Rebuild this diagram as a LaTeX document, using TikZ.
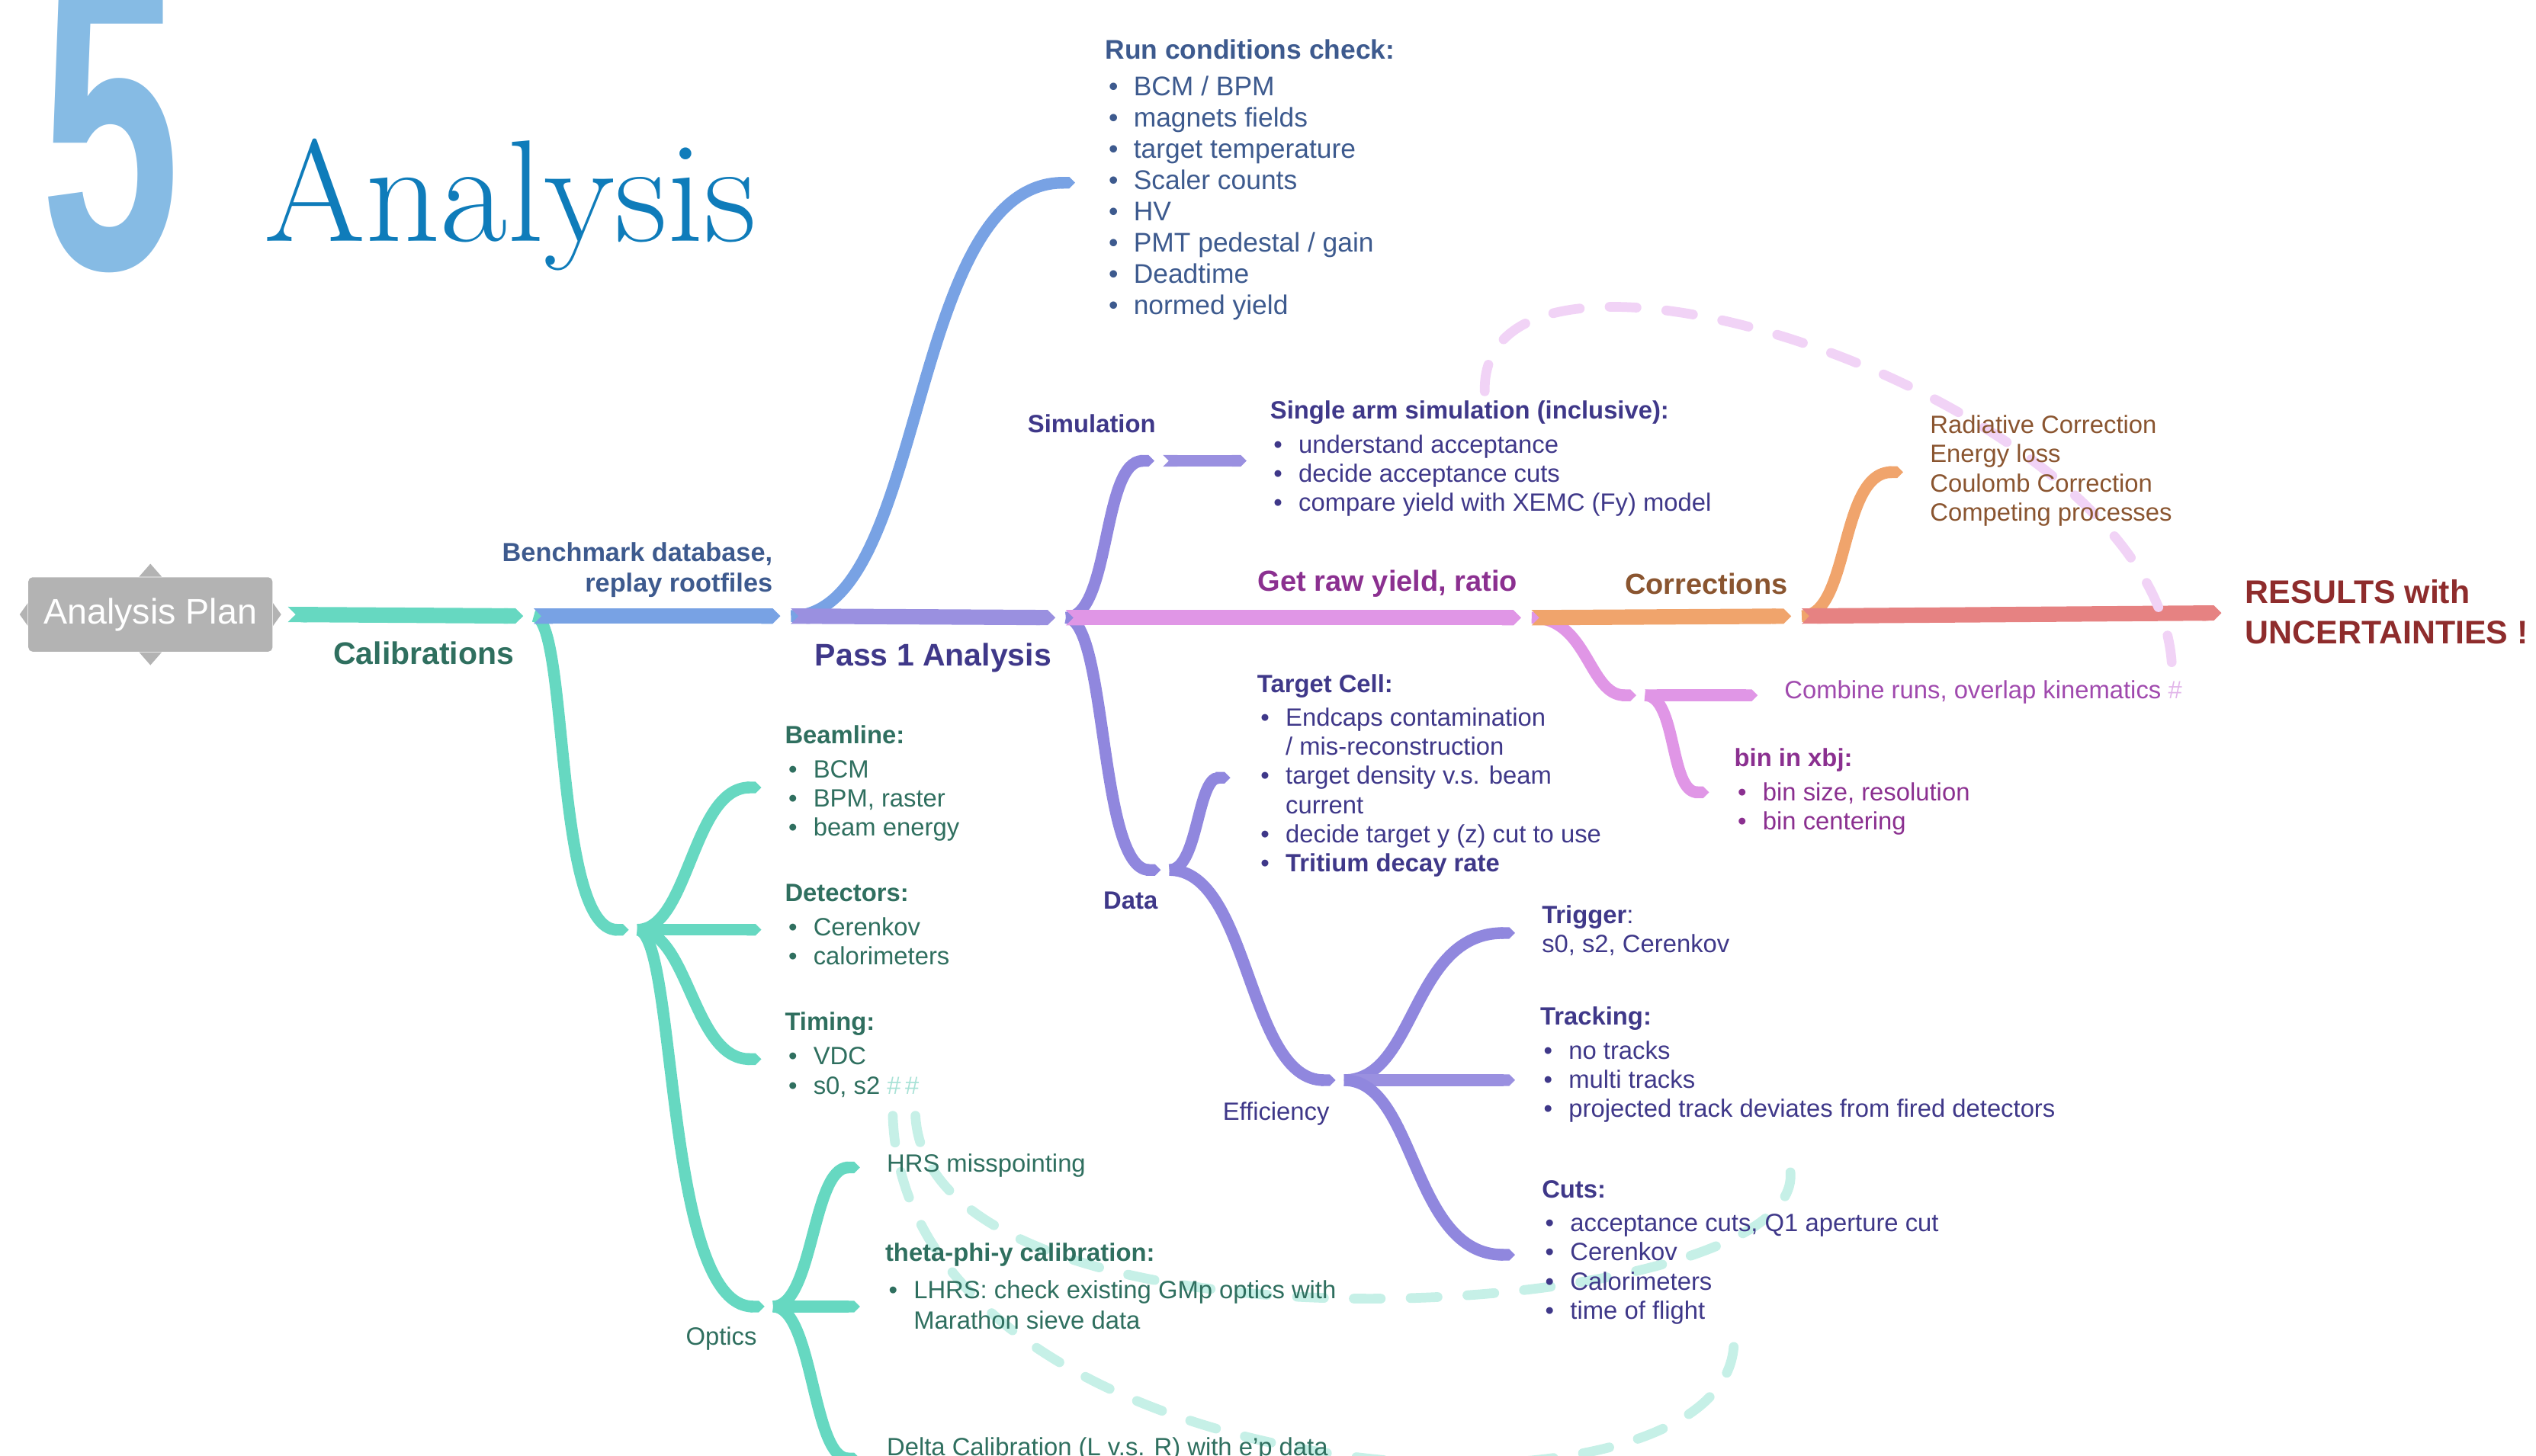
\documentclass[tikz,border=0pt]{standalone}
\usepackage{graphicx}
\usepackage{fontspec}
\setsansfont{Liberation Sans}
\usetikzlibrary{arrows.meta}

% 颜色
\definecolor{fivecol}{HTML}{86BBE4}
\definecolor{titleblue}{HTML}{0F7CBA}
\definecolor{rootgray}{HTML}{B3B3B3}
\definecolor{tealband}{HTML}{66D8C1}
\definecolor{blueband}{HTML}{78A2E4}
\definecolor{purpband}{HTML}{9A90E0}
\definecolor{purptwig}{HTML}{9087DE}
\definecolor{pinkband}{HTML}{E096E6}
\definecolor{orangeband}{HTML}{F0A46C}
\definecolor{redband}{HTML}{E68282}
\definecolor{tealdash}{HTML}{C6F0E7}
\definecolor{pinkdash}{HTML}{F1D3F6}
\definecolor{tealtext}{HTML}{2F6F5F}
\definecolor{bluetext}{HTML}{3D5A8E}
\definecolor{purptext}{HTML}{3F3889}
\definecolor{pinktext}{HTML}{8B3090}
\definecolor{combtext}{HTML}{A04AAE}
\definecolor{browntext}{HTML}{8A5530}
\definecolor{redtext}{HTML}{8E2C2C}
\definecolor{hashteal}{HTML}{A8E2D6}
\definecolor{hashpink}{HTML}{E2B6EA}

\newcommand{\itm}{\makebox[10pt][l]{\hspace{1.2pt}\textbullet}}
\newcommand{\ind}{\hspace*{10pt}}

\begin{document}
\begin{tikzpicture}[x=0.02cm, y=-0.02cm,  % 单位: 1 = 缩略图一个像素, y 向下
  trunk/.style={line width=0.19cm, {Triangle Cap[reversed]}-{Triangle Cap}, shorten >=3.7pt},
  twig/.style={line width=0.145cm, -{Triangle Cap}, shorten >=3pt},
  twigcut/.style={line width=0.145cm, {Triangle Cap[reversed]}-{Triangle Cap}, shorten >=3pt},
  link/.style={line width=0.12cm, line cap=round, dash pattern=on 9.5pt off 10.5pt},
  body/.style={font=\sffamily\fontsize{8.8}{10.25}\selectfont, align=left, inner sep=0pt, anchor=north west},
  head/.style={font=\sffamily\bfseries\fontsize{8.8}{10}\selectfont, inner sep=0pt},
  stem/.style={font=\sffamily\bfseries\fontsize{11}{14}\selectfont, inner sep=0pt}]

  \useasboundingbox (0,0) rectangle (1568,900);
  \clip (0,0) rectangle (1568,900);

  % 标题
  \node[anchor=base west, inner sep=0pt, text=fivecol] (five) at (25,166)
    {\scalebox{0.6}[1]{\sffamily\bfseries\fontsize{147}{147}\selectfont 5}};
  \node[anchor=base west, inner sep=0pt, text=titleblue] (title) at (163,149)
    {\scalebox{1.01}[1]{\fontsize{51}{51}\selectfont Analysis}};

  % 根结点
  \node[fill=rootgray, text=white, rounded corners=1.5pt, minimum width=3.02cm, minimum height=0.92cm,
    font=\sffamily\fontsize{12.5}{14}\selectfont] (plan) at (93,380) {Analysis Plan};
  \fill[rootgray] (plan.north) ++(-7,0) -- ++(7,-8) -- ++(7,8) -- cycle;
  \fill[rootgray] (plan.south) ++(-7,0) -- ++(7,8) -- ++(7,-8) -- cycle;
  \fill[rootgray] (plan.west) ++(0,-7) -- ++(-5,7) -- ++(5,7) -- cycle;
  \fill[rootgray] (plan.east) ++(0,-7) -- ++(5,7) -- ++(-5,7) -- cycle;

  % 主干上的点
  \coordinate (c0) at (178,380);
  \coordinate (c1) at (330,381);
  \coordinate (c2) at (489,381);
  \coordinate (c3) at (659,382);
  \coordinate (c4) at (947,382);
  \coordinate (c5) at (1114,381);
  \coordinate (c6) at (1380,379);
  % 分支的点
  \coordinate (runc) at (670,113);
  \coordinate (calj) at (394,575);
  \coordinate (beamc) at (476,487);
  \coordinate (detc) at (476,575);
  \coordinate (timc) at (476,655);
  \coordinate (optj) at (478,808);
  \coordinate (hrsc) at (537,722);
  \coordinate (thetac) at (537,808);
  \coordinate (deltac) at (537,902);
  \coordinate (simj) at (719,285);
  \coordinate (simc) at (776,285);
  \coordinate (dataj) at (723,538);
  \coordinate (tcellc) at (766,481);
  \coordinate (effj) at (831,668);
  \coordinate (trigc) at (942,577);
  \coordinate (trackc) at (942,668);
  \coordinate (cutsc) at (942,776);
  \coordinate (combj) at (1017,430);
  \coordinate (combc) at (1092,430);
  \coordinate (binc) at (1062,490);
  \coordinate (corrc) at (1182,292);
  % 虚线的端点
  \coordinate (hashA) at (552,690);
  \coordinate (hashB) at (566,690);
  \coordinate (caloc) at (1072,826);
  \coordinate (cerc) at (1107,725);
  \coordinate (hashC) at (1343,418);
  \coordinate (elossc) at (918,242);

  % 分支 (先画, 主干盖在上面)
  \draw[twig, blueband] (c2) .. controls +(85,0) and +(-110,0) .. (runc);
  \draw[twig, tealband] (c1) .. controls +(22,0) and +(-52,0) .. (calj);
  \draw[twig, tealband] (calj) .. controls +(32,0) and +(-48,0) .. (beamc);
  \draw[twigcut, tealband] (calj) -- (detc);
  \draw[twig, tealband] (calj) .. controls +(32,0) and +(-48,0) .. (timc);
  \draw[twig, tealband] (calj) .. controls +(25,0) and +(-68,0) .. (optj);
  \draw[twig, tealband] (optj) .. controls +(25,0) and +(-35,0) .. (hrsc);
  \draw[twigcut, tealband] (optj) -- (thetac);
  \draw[twig, tealband] (optj) .. controls +(25,0) and +(-35,0) .. (deltac);
  \draw[twig, purptwig] (c3) .. controls +(28,0) and +(-38,0) .. (simj);
  \draw[twigcut, purpband] (simj) -- (simc);
  \draw[twig, purptwig] (c3) .. controls +(26,0) and +(-44,0) .. (dataj);
  \draw[twig, purptwig] (dataj) .. controls +(18,0) and +(-26,0) .. (tcellc);
  \draw[twig, purptwig] (dataj) .. controls +(50,0) and +(-60,0) .. (effj);
  \draw[twig, purptwig] (effj) .. controls +(45,0) and +(-70,0) .. (trigc);
  \draw[twigcut, purpband] (effj) -- (trackc);
  \draw[twig, purptwig] (effj) .. controls +(45,0) and +(-70,0) .. (cutsc);
  \draw[twig, pinkband] (c4) .. controls +(35,0) and +(-35,0) .. (combj);
  \draw[twigcut, pinkband] (combj) -- (combc);
  \draw[twig, pinkband] (combj) .. controls +(20,0) and +(-30,0) .. (binc);
  \draw[twig, orangeband] (c5) .. controls +(30,0) and +(-45,0) .. (corrc);

  % 主干
  \draw[trunk, tealband] (c0) -- (c1);
  \draw[trunk, blueband] (c1) -- (c2);
  \draw[trunk, purpband] (c2) -- (c3);
  \draw[trunk, pinkband] (c3) -- (c4);
  \draw[trunk, orangeband] (c4) -- (c5);
  \draw[trunk, redband] (c5) -- (c6);

  % 虚线关系
  \draw[link, tealdash] (hashA) .. controls +(8,240) and +(8,134) .. (caloc);
  \draw[link, tealdash] (hashB) .. controls +(9,160) and +(8,95) .. (cerc);
  \draw[link, pinkdash] (elossc) .. controls +(-3,-132) and +(2,-168) .. (hashC);

  % 主干标签
  \node[stem, text=tealtext] (calib) at (262,404) {Calibrations};
  \node[head, text=bluetext, align=right, anchor=north east,
    font=\sffamily\bfseries\fontsize{9.2}{10.8}\selectfont] (bench) at (478,335) {Benchmark database,\\ replay rootfiles};
  \node[stem, text=purptext] (pass) at (577,407) {Pass 1 Analysis};
  \node[head, text=pinktext, font=\sffamily\bfseries\fontsize{10.2}{12}\selectfont] (raw) at (858,361) {Get raw yield, ratio};
  \node[head, text=browntext, font=\sffamily\bfseries\fontsize{10.2}{12}\selectfont] (corr) at (1055,361) {Corrections};
  \node[head, text=redtext, align=left, anchor=north west,
    font=\sffamily\bfseries\fontsize{11.5}{14.2}\selectfont] (result) at (1388,358) {RESULTS with\\ UNCERTAINTIES !};
  \node[head, text=purptext] (simlab) at (675,262) {Simulation};
  \node[head, text=purptext] (datalab) at (699,557) {Data};
  \node[body, anchor=center, text=purptext] (efflab) at (789,689) {Efficiency};
  \node[body, anchor=center, text=tealtext] (optlab) at (446,828) {Optics};

  % 叶子文字
  \node[body, text=bluetext, font=\sffamily\fontsize{9.5}{11}\selectfont] (runlist) at (683,24)
    {\textbf{Run conditions check:}\\[2pt]
     \itm BCM / BPM\\ \itm magnets fields\\ \itm target temperature\\ \itm Scaler counts\\
     \itm HV\\ \itm PMT pedestal / gain\\ \itm Deadtime\\ \itm normed yield};
  \node[body, text=purptext] (single) at (785,247.5)
    {\textbf{Single arm simulation (inclusive):}\\[1.7pt]
     \itm understand acceptance\\ \itm decide acceptance cuts\\ \itm compare yield with XEMC (Fy) model};
  \node[body, text=purptext] (tcell) at (777,416.5)
    {\textbf{Target Cell:}\\[1.7pt]
     \itm Endcaps contamination\\ \ind / mis-reconstruction\\ \itm target density v.s. beam\\ \ind current\\
     \itm decide target y (z) cut to use\\ \itm \textbf{Tritium decay rate}};
  \node[body, text=tealtext] (beam) at (485,448.5)
    {\textbf{Beamline:}\\[1.7pt] \itm BCM\\ \itm BPM, raster\\ \itm beam energy};
  \node[body, text=tealtext] (det) at (485,546.5)
    {\textbf{Detectors:}\\[1.7pt] \itm Cerenkov\\ \itm calorimeters};
  \node[body, text=tealtext] (tim) at (485,625.5)
    {\textbf{Timing:}\\[2pt] \itm VDC\\ \itm s0, s2 {\color{hashteal}\#\,\#}};
  \node[body, text=tealtext, anchor=base west] (hrs) at (548,725) {HRS misspointing};
  \node[body, text=tealtext, font=\sffamily\fontsize{8.8}{10.8}\selectfont] (theta) at (547,768.5)
    {\textbf{theta-phi-y calibration:}\\[2.2pt] \itm LHRS: check existing GMp optics with\\ \ind Marathon sieve data};
  \node[body, text=tealtext, anchor=base west] (delta) at (548,900) {Delta Calibration (L v.s. R) with e'p data};
  \node[body, text=purptext] (trig) at (953,559.5) {\textbf{Trigger}:\\ s0, s2, Cerenkov};
  \node[body, text=purptext] (track) at (952,622.5)
    {\textbf{Tracking:}\\[1.7pt] \itm no tracks\\ \itm multi tracks\\ \itm projected track deviates from fired detectors};
  \node[body, text=purptext] (cuts) at (953,729.5)
    {\textbf{Cuts:}\\[1.7pt] \itm acceptance cuts, Q1 aperture cut\\ \itm Cerenkov\\ \itm Calorimeters\\ \itm time of flight};
  \node[body, text=combtext, anchor=base west] (comb) at (1103,432)
    {Combine runs, overlap kinematics {\color{hashpink}\#}};
  \node[body, text=pinktext] (binx) at (1072,462.5)
    {\textbf{bin in xbj:}\\[1.7pt] \itm bin size, resolution\\ \itm bin centering};
  \node[body, text=browntext] (corrlist) at (1193,256.5)
    {Radiative Correction\\ Energy loss\\ Coulomb Correction\\ Competing processes};
\end{tikzpicture}
\end{document}
